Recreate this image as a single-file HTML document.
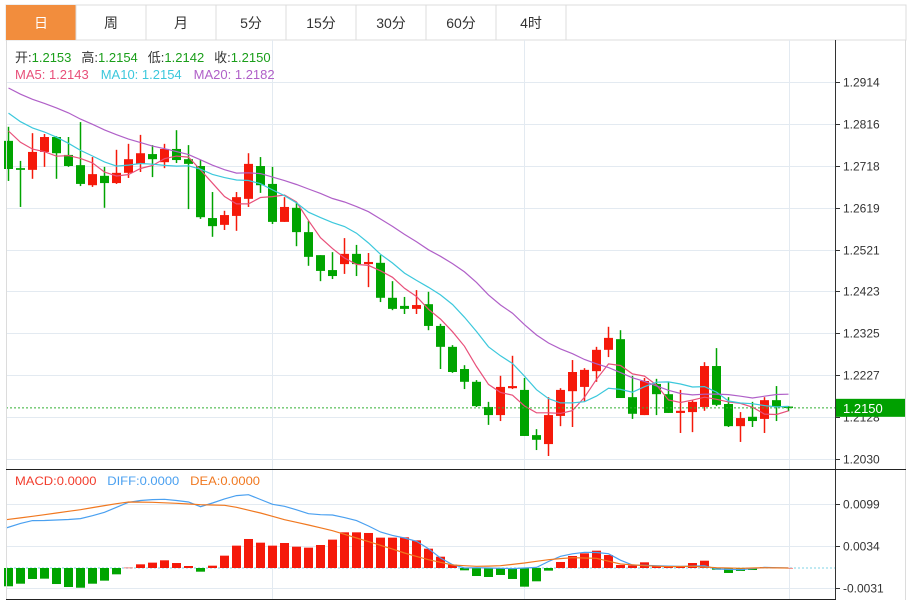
<!DOCTYPE html>
<html><head><meta charset="utf-8">
<style>
html,body{margin:0;padding:0;background:#fff;}
svg{display:block;font-family:"Liberation Sans","Noto Sans CJK SC",sans-serif;}
</style></head>
<body>
<svg id="chart" width="915" height="601" viewBox="0 0 915 601" xmlns="http://www.w3.org/2000/svg">
  <g>
    <rect x="6" y="5" width="900" height="35" fill="#fff" stroke="#dcdcdc"/>
    <rect x="6" y="5" width="70" height="35" fill="#f28d3d"/>
    <text x="41" y="28" text-anchor="middle" font-size="14" fill="#fff">日</text>
    <line x1="76" y1="5" x2="76" y2="40" stroke="#dcdcdc"/>
    <text x="111" y="28" text-anchor="middle" font-size="14" fill="#333">周</text>
    <line x1="146" y1="5" x2="146" y2="40" stroke="#dcdcdc"/>
    <text x="181" y="28" text-anchor="middle" font-size="14" fill="#333">月</text>
    <line x1="216" y1="5" x2="216" y2="40" stroke="#dcdcdc"/>
    <text x="251" y="28" text-anchor="middle" font-size="14" fill="#333">5分</text>
    <line x1="286" y1="5" x2="286" y2="40" stroke="#dcdcdc"/>
    <text x="321" y="28" text-anchor="middle" font-size="14" fill="#333">15分</text>
    <line x1="356" y1="5" x2="356" y2="40" stroke="#dcdcdc"/>
    <text x="391" y="28" text-anchor="middle" font-size="14" fill="#333">30分</text>
    <line x1="426" y1="5" x2="426" y2="40" stroke="#dcdcdc"/>
    <text x="461" y="28" text-anchor="middle" font-size="14" fill="#333">60分</text>
    <line x1="496" y1="5" x2="496" y2="40" stroke="#dcdcdc"/>
    <text x="531" y="28" text-anchor="middle" font-size="14" fill="#333">4时</text>
    <line x1="566" y1="5" x2="566" y2="40" stroke="#dcdcdc"/>
  </g>
  <g id="grid"></g>
  <g id="main"></g>
  <g id="macd"></g>
  <g>
    <line x1="6.5" y1="40" x2="6.5" y2="600" stroke="#dcdcdc"/>
    <line x1="905.5" y1="40" x2="905.5" y2="600" stroke="#dcdcdc"/>
    <line x1="835.5" y1="40" x2="835.5" y2="600" stroke="#333"/>
    <line x1="6" y1="469.5" x2="906" y2="469.5" stroke="#222"/>
    <line x1="6" y1="599.5" x2="836" y2="599.5" stroke="#222"/>
  </g>
  <g font-size="13">
    <text x="15" y="62"><tspan fill="#333">开:</tspan><tspan fill="#1a9e1a">1.2153</tspan><tspan fill="#333" dx="10">高:</tspan><tspan fill="#1a9e1a">1.2154</tspan><tspan fill="#333" dx="10">低:</tspan><tspan fill="#1a9e1a">1.2142</tspan><tspan fill="#333" dx="10">收:</tspan><tspan fill="#1a9e1a">1.2150</tspan></text>
    <text x="15" y="79"><tspan fill="#e8507a">MA5: 1.2143</tspan><tspan fill="#3cc8dc" dx="12">MA10: 1.2154</tspan><tspan fill="#b060c8" dx="12">MA20: 1.2182</tspan></text>
  </g>
  <g font-size="12">
    <text x="15" y="485" textLength="245" lengthAdjust="spacingAndGlyphs"><tspan fill="#f23c2c">MACD:0.0000</tspan><tspan fill="#4aa0f0" dx="10">DIFF:0.0000</tspan><tspan fill="#f07820" dx="10">DEA:0.0000</tspan></text>
  </g>
</svg>
<script>
const opens=[1.2776,1.2712,1.2708,1.2750,1.2785,1.2743,1.2719,1.2672,1.2694,1.2677,1.2701,1.2722,1.2745,1.2726,1.2757,1.2733,1.2717,1.2595,1.2579,1.2600,1.2640,1.2717,1.2675,1.2586,1.2619,1.2562,1.2508,1.2473,1.2487,1.2511,1.2487,1.2490,1.2408,1.2389,1.2382,1.2393,1.2342,1.2293,1.2241,1.2211,1.2152,1.2133,1.2196,1.2192,1.2086,1.2065,1.2131,1.2189,1.2199,1.2236,1.2286,1.2311,1.2175,1.2133,1.2206,1.2182,1.2138,1.2140,1.2152,1.2248,1.2159,1.2107,1.2129,1.2124,1.2168,1.2153];
const closes=[1.2710,1.2708,1.2750,1.2785,1.2747,1.2717,1.2675,1.2698,1.2677,1.2701,1.2733,1.2747,1.2733,1.2757,1.2731,1.2722,1.2597,1.2576,1.2602,1.2644,1.2722,1.2672,1.2586,1.2621,1.2562,1.2504,1.2471,1.2459,1.2511,1.2487,1.2492,1.2408,1.2382,1.2382,1.2391,1.2342,1.2293,1.2234,1.2211,1.2154,1.2133,1.2199,1.2201,1.2084,1.2075,1.2133,1.2192,1.2234,1.2239,1.2286,1.2314,1.2173,1.2136,1.2213,1.2182,1.2138,1.2143,1.2164,1.2248,1.2157,1.2107,1.2126,1.2119,1.2168,1.2152,1.2150];
const highs=[1.2809,1.2729,1.2794,1.2792,1.2787,1.2785,1.2820,1.2738,1.2715,1.2755,1.2769,1.2790,1.2766,1.2769,1.2801,1.2766,1.2731,1.2656,1.2612,1.2656,1.2747,1.2738,1.2715,1.2644,1.2630,1.2588,1.2508,1.2515,1.2548,1.2532,1.2513,1.2508,1.2447,1.2410,1.2426,1.2422,1.2347,1.2297,1.2250,1.2215,1.2164,1.2225,1.2272,1.2220,1.2100,1.2175,1.2196,1.2262,1.2243,1.2293,1.2340,1.2332,1.2225,1.2220,1.2218,1.2211,1.2192,1.2168,1.2257,1.2290,1.2175,1.2140,1.2164,1.2175,1.2201,1.2154];
const lows=[1.2682,1.2621,1.2687,1.2715,1.2687,1.2715,1.2670,1.2668,1.2619,1.2675,1.2689,1.2703,1.2691,1.2712,1.2724,1.2616,1.2593,1.2551,1.2567,1.2565,1.2621,1.2654,1.2581,1.2586,1.2529,1.2483,1.2447,1.2452,1.2464,1.2459,1.2433,1.2398,1.2379,1.2370,1.2370,1.2332,1.2241,1.2232,1.2194,1.2152,1.2110,1.2119,1.2194,1.2084,1.2051,1.2037,1.2107,1.2105,1.2164,1.2211,1.2269,1.2173,1.2124,1.2133,1.2133,1.2138,1.2091,1.2093,1.2143,1.2154,1.2105,1.2070,1.2105,1.2091,1.2119,1.2142];
const priorCloses=[1.3000,1.2990,1.2975,1.2960,1.2950,1.2965,1.2945,1.2940,1.2925,1.2940,1.2910,1.2895,1.2880,1.2870,1.2860,1.2840,1.2830,1.2815,1.2800];
const priceTicks=["1.2914","1.2816","1.2718","1.2619","1.2521","1.2423","1.2325","1.2227","1.2128","1.2030"];
const macdHist=[-0.00283,-0.00243,-0.00170,-0.00165,-0.00248,-0.00294,-0.00305,-0.00243,-0.00196,-0.00098,0.00005,0.00057,0.00083,0.00119,0.00077,0.00031,-0.00057,0.00036,0.00191,0.00346,0.00449,0.00392,0.00346,0.00387,0.00330,0.00315,0.00356,0.00439,0.00552,0.00552,0.00542,0.00470,0.00470,0.00475,0.00428,0.00299,0.00175,0.00052,-0.00036,-0.00124,-0.00139,-0.00108,-0.00170,-0.00289,-0.00206,-0.00041,0.00093,0.00186,0.00227,0.00268,0.00201,0.00046,0.00041,0.00088,0.00036,0.00026,0.00026,0.00077,0.00113,-0.00026,-0.00077,-0.00046,-0.00031,0.00015,0.00003,0.00001];
const diffVals=[0.00619,0.00690,0.00733,0.00735,0.00743,0.00750,0.00764,0.00810,0.00862,0.00940,0.01017,0.01045,0.01058,0.01063,0.01045,0.01022,0.00949,0.01006,0.01070,0.01120,0.01135,0.01060,0.00986,0.00955,0.00900,0.00841,0.00825,0.00820,0.00780,0.00733,0.00650,0.00557,0.00505,0.00464,0.00413,0.00299,0.00155,0.00052,0.00000,0.00005,0.00000,-0.00005,-0.00010,0.00000,0.00010,0.00100,0.00181,0.00220,0.00243,0.00240,0.00222,0.00120,0.00046,0.00040,0.00036,0.00030,0.00026,0.00030,0.00036,-0.00015,-0.00022,-0.00026,-0.00010,0.00010,0.00005,0.00000];
const deaVals=[0.00748,0.00775,0.00800,0.00825,0.00851,0.00877,0.00903,0.00935,0.00965,0.00995,0.01022,0.01020,0.01017,0.01009,0.01001,0.00990,0.00980,0.00975,0.00970,0.00939,0.00895,0.00851,0.00800,0.00748,0.00707,0.00666,0.00622,0.00578,0.00521,0.00464,0.00408,0.00351,0.00292,0.00232,0.00180,0.00129,0.00088,0.00046,0.00036,0.00026,0.00030,0.00036,0.00056,0.00077,0.00103,0.00129,0.00145,0.00160,0.00155,0.00150,0.00105,0.00062,0.00049,0.00036,0.00028,0.00021,0.00023,0.00026,0.00015,0.00005,0.00000,-0.00005,0.00000,0.00005,0.00002,0.00000];
const macdTicks=[0.0099,0.0034,-0.0031];

const NS="http://www.w3.org/2000/svg";
function mk(tag,attrs,parent){const e=document.createElementNS(NS,tag);for(const k in attrs)e.setAttribute(k,attrs[k]);parent.appendChild(e);return e;}
const grid=document.getElementById('grid'),main=document.getElementById('main'),macd=document.getElementById('macd');
const RED="#f5190a",GREEN="#00a400";
const xOf=i=>8.5+12*i;
const pTop=1.2914,pBot=1.2030,yTop=82,yBot=459;
const yP=p=>yTop+(pTop-p)/(pTop-pBot)*(yBot-yTop);
const zeroY=568,perUnit=42/0.0065;
const yM=v=>zeroY-v*perUnit;

// grid
priceTicks.forEach(t=>{const y=Math.round(yP(parseFloat(t)))+0.5;
  const l=mk('line',{x1:6,x2:835,y1:y,y2:y,stroke:"#e3eaf1"},grid);
  
  
  const tk=mk('line',{x1:835,x2:840,y1:y,y2:y,stroke:"#333"},grid);
  
  
  const tx=mk('text',{x:843,y:y+4,"font-size":12,fill:"#333"},grid);tx.textContent=t;
  
  
});
macdTicks.forEach(v=>{const y=Math.round(yM(v))+0.5;
  const l=mk('line',{x1:6,x2:835,y1:y,y2:y,stroke:"#e3eaf1"},grid);
  
  
  const tk=mk('line',{x1:835,x2:840,y1:y,y2:y,stroke:"#333"},grid);
  
  
  const tx=mk('text',{x:843,y:y+4,"font-size":12,fill:"#333"},grid);tx.textContent=v.toFixed(4);
  
  
});
[272.5,524.5,789.5].forEach(x=>{
  const l=mk('line',{x1:x,x2:x,y1:40,y2:599,stroke:"#e3eaf1"},grid);
  
  
});

// candles
opens.forEach((o,i)=>{
  const c=closes[i],up=c>=o,col=up?RED:GREEN,x=xOf(i);
  const w=mk('line',{x1:x,x2:x,y1:yP(highs[i]),y2:yP(lows[i]),stroke:col,"stroke-width":1.5},main);
  
  
  const t=yP(Math.max(o,c)),b=yP(Math.min(o,c));
  const r=mk('rect',{x:x-4.5,y:t,width:9,height:Math.max(1.5,b-t),fill:col},main);
  
  
});

// moving averages
const all=priorCloses.concat(closes);
function ma(n){return closes.map((_,i)=>{const j=i+priorCloses.length;let s=0;for(let k=j-n+1;k<=j;k++)s+=all[k];return s/n;});}
[[5,"#e8507a","ma5-line"],[10,"#3cc8dc","ma10-line"],[20,"#b060c8","ma20-line"]].forEach(([n,col,name])=>{
  const v=ma(n);const d=v.map((p,i)=>(i?'L':'M')+xOf(i).toFixed(1)+' '+yP(p).toFixed(1)).join(' ');
  const pth=mk('path',{d:d,fill:"none",stroke:col,"stroke-width":1.2},main);
  
  
});

// current price
const lastY=yP(closes[closes.length-1]);
const cl=mk('line',{x1:6,x2:835,y1:lastY,y2:lastY,stroke:"#33b033","stroke-dasharray":"2,2"},main);


const cb=mk('rect',{x:836,y:lastY-9,width:69,height:18,fill:"#00a000"},main);


const ct=mk('text',{x:843,y:lastY+5,"font-size":13,fill:"#fff"},main);ct.textContent=closes[closes.length-1].toFixed(4);



// macd
const zl=mk('line',{x1:6,x2:835,y1:zeroY,y2:zeroY,stroke:"#7fd3e6","stroke-dasharray":"2,2"},macd);


macdHist.forEach((v,i)=>{
  const y=yM(v),x=xOf(i);
  const r=mk('rect',{x:x-4.5,y:Math.min(y,zeroY),width:9,height:Math.max(0.5,Math.abs(y-zeroY)),fill:v>=0?RED:GREEN},macd);
  
  
});
[[diffVals,"#4aa0f0","diff-line"],[deaVals,"#f07820","dea-line"]].forEach(([arr,col,name])=>{
  const d=arr.map((v,i)=>(i?'L':'M')+(i?xOf(i):6).toFixed(1)+' '+yM(v).toFixed(1)).join(' ');
  const pth=mk('path',{d:d,fill:"none",stroke:col,"stroke-width":1.2},macd);
  
  
});
</script>
</body></html>
